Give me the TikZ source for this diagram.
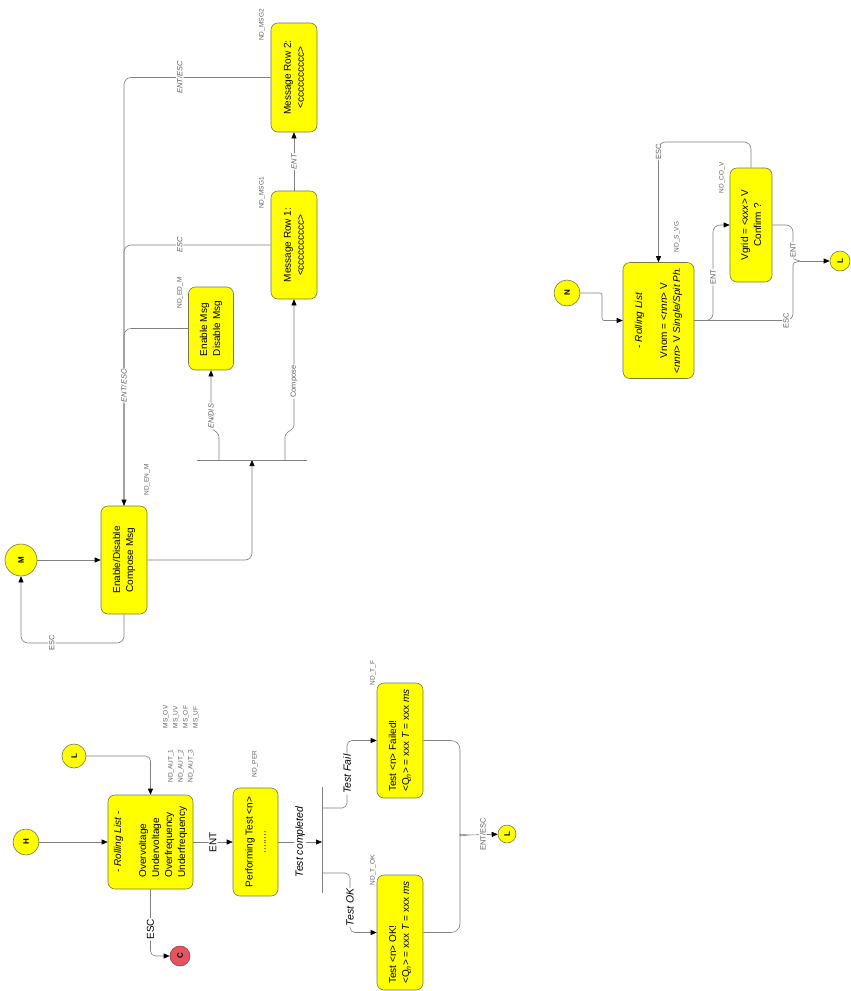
\documentclass[tikz,border=0pt]{standalone}
\usepackage{fontspec}
\setmainfont{Liberation Sans}
\usepackage{tikz}
\usetikzlibrary{arrows.meta}
\definecolor{boxyellow}{RGB}{255,255,0}
\definecolor{boxline}{RGB}{120,120,70}
\definecolor{wiregray}{RGB}{128,128,128}
\definecolor{tagtext}{RGB}{96,96,96}
\definecolor{exitred}{RGB}{226,84,96}

\begin{document}
\begin{tikzpicture}[x=1pt,y=-1pt,
  every node/.style={rotate=90},
  state/.style={draw=boxline, fill=boxyellow, rounded corners=7pt, line width=0.6pt, inner sep=3pt, font=\fontsize{10}{13}\selectfont, align=center},
  term/.style={circle, draw=boxline, fill=boxyellow, line width=0.6pt, inner sep=0pt, font=\fontsize{8}{8}\selectfont\bfseries},
  tag/.style={text=tagtext, inner sep=0pt, font=\fontsize{6.5}{10}\selectfont, align=left},
  wire/.style={draw=wiregray, line width=0.6pt, rounded corners=5pt},
  arr/.style={wire, -{Triangle[length=6pt,width=5pt,color=black]}},
  lbl/.style={fill=white, inner sep=1pt, text=tagtext, font=\fontsize{7.5}{9}\selectfont},
  lbli/.style={lbl, font=\fontsize{7.5}{9}\selectfont\itshape},
  lblb/.style={fill=white, inner sep=1pt, font=\fontsize{10}{12}\selectfont},
  lblt/.style={lblb, font=\fontsize{10.5}{12}\selectfont\itshape}]
\fill[white] (0,0) rectangle (851,991);
\useasboundingbox (0,0) rectangle (851,991);

\node[term, minimum size=26pt] (H) at (26,842) {H};
\node[term, minimum size=24pt] (Lt) at (74,756) {L};
\node[state, minimum width=94pt, minimum height=85pt] (rl) at (150.5,842) {\begin{tabular}{@{}l@{}}\multicolumn{1}{@{}c@{}}{- \textit{Rolling List} -}\\[12pt]Overvoltage\\Undervoltage\\Overfrequency\\Underfrequency\end{tabular}};
\node[term, minimum size=20pt, fill=exitred, draw=exitred!70!black] (C) at (180,956) {C};
\node[state, minimum width=108pt, minimum height=45pt] (per) at (255.5,842) {Performing Test <n>\\........};
\coordinate (bar) at (322,842);
\coordinate (b1) at (322,808);
\coordinate (b2) at (322,873);
\node[state, minimum width=115pt, minimum height=46pt, align=left] (tfail) at (400,740.5) {Test <n> Failed!\\<Q\textsubscript{\textit{n}}> = xxx \textit{T} = xxx \textit{ms}};
\node[state, minimum width=115pt, minimum height=46pt, align=left] (tok) at (400,932.5) {Test <n> OK!\\<Q\textsubscript{\textit{n}}> = xxx \textit{T} = xxx \textit{ms}};
\coordinate (tip) at (468,835);
\node[term, minimum size=18pt] (Lb) at (507,834) {L};

\node[term, minimum size=32pt] (M) at (21,560) {M};
\node[state, minimum width=108pt, minimum height=46pt] (edm) at (124,560) {Enable/Disable\\Compose Msg};
\node[state, minimum width=83pt, minimum height=45pt, align=left] (ena) at (211,328.5) {Enable Msg\\Disable Msg};
\node[state, minimum width=108pt, minimum height=46pt] (msg1) at (294,245) {Message Row 1:\\<cccccccccc>};
\node[state, minimum width=109pt, minimum height=46pt] (msg2) at (294,77.5) {Message Row 2:\\<cccccccccc>};
\coordinate (mloop) at (21,643);
\coordinate (bar2) at (252,460);
\coordinate (c1) at (219,460);
\coordinate (c2) at (285,460);

\node[term, minimum size=26pt] (N) at (567,293) {N};
\node[state, minimum width=116pt, minimum height=71pt] (svg) at (658.5,320.5) {- \textit{Rolling List}\\[12pt]Vnom = <\textit{nnn}> V\\<\textit{nnn}> V \textit{Single/Spit Ph.}};
\node[state, minimum width=114pt, minimum height=42pt] (cov) at (751,225) {Vgrid = <\textit{xxx}> V\\Confirm ?};
\coordinate (tip2) at (800,261);
\node[term, minimum size=20pt] (Lr) at (840,261) {L};

\node[tag] (tAut) at (181,766) {ND\_AUT\_1\\ND\_AUT\_2\\ND\_AUT\_3};
\node[tag] (tMs) at (181,717) {MS\_OV\\MS\_UV\\MS\_OF\\MS\_UF};
\node[tag] (tPer) at (255,764) {ND\_PER};
\node[tag] (tOk) at (373,870) {ND\_T\_OK};
\node[tag] (tF) at (373,673) {ND\_T\_F};
\node[tag] (tEnM) at (147,480) {ND\_EN\_M};
\node[tag] (tEdM) at (180,293) {ND\_ED\_M};
\node[tag] (tM1) at (262,193) {ND\_MSG1};
\node[tag] (tM2) at (262,25) {ND\_MSG2};
\node[tag] (tSvg) at (677,237) {ND\_S\_VG};
\node[tag] (tCov) at (722,178) {ND\_CO\_V};

\draw[arr] (H) -- (rl);
\draw[arr] (Lt) -| (rl);
\draw[arr] (rl) |- (C) node[lblb, pos=0.3] {ESC};
\draw[arr] (rl) -- (per) node[lblb, midway] {ENT};
\draw[arr] (per) -- (bar) node[lblt, midway] {Test completed};
\draw[wire] (322,787) -- (322,893);
\draw[arr] (b1) -- ++(25,0) |- (tfail) node[lblt, pos=0.25] {Test Fail};
\draw[arr] (b2) -- ++(28,0) |- (tok) node[lblt, pos=0.29] {Test OK};
\draw[wire, rounded corners=9pt] (tfail) -| (460,826) .. controls (460,834) .. (tip);
\draw[wire, rounded corners=9pt] (tok) -| (460,844) .. controls (460,836) .. (tip);
\draw[arr] (tip) -- (Lb) node[lbl, midway] {ENT/ESC};

\draw[arr] (M) -- (edm);
\draw[arr, rounded corners=7pt] (edm) |- (mloop) node[lbl, pos=0.85] {ESC} -- (M);
\draw[wire, rounded corners=7pt] (ena) -| (edm);
\draw[wire, rounded corners=7pt] (msg1) -| (edm) node[lbli, pos=0.31] {ESC};
\draw[arr, rounded corners=7pt] (msg2) -| (edm) node[lbli, pos=0.31] {ENT/ESC} node[lbli, pos=0.86] {ENT/ESC};
\draw[arr, rounded corners=7pt] (edm) -| (bar2);
\draw[wire] (197,460) -- (307,460);
\draw[arr, rounded corners=3pt] (c1) -- (219,434) -- (211,428) -- (ena) node[lbli, pos=0.2] {EN/DIS};
\draw[arr, rounded corners=3pt] (c2) -- (285,434) -- (294,428) -- (msg1) node[lbl, pos=0.36] {Compose};
\draw[arr] (msg1) -- (msg2) node[lbli, midway] {ENT};

\draw[arr, rounded corners=2pt] (N) -| (602,320.5) -- (svg);
\draw[arr, rounded corners=7pt] (cov) |- (658.5,142) -- (svg) node[lbl, pos=0.08] {ESC};
\draw[arr, rounded corners=7pt] (svg) -| (713,277) node[lbl] {ENT} |- (cov);
\draw[wire, rounded corners=7pt] (cov) -| (793,250) node[lbl] {ENT} .. controls (793,259) .. (tip2);
\draw[wire, rounded corners=7pt] (svg) -| (793,272) node[lbl, pos=0.465] {ESC} .. controls (793,263) .. (tip2);
\draw[arr] (tip2) -- (Lr);
\end{tikzpicture}
\end{document}
